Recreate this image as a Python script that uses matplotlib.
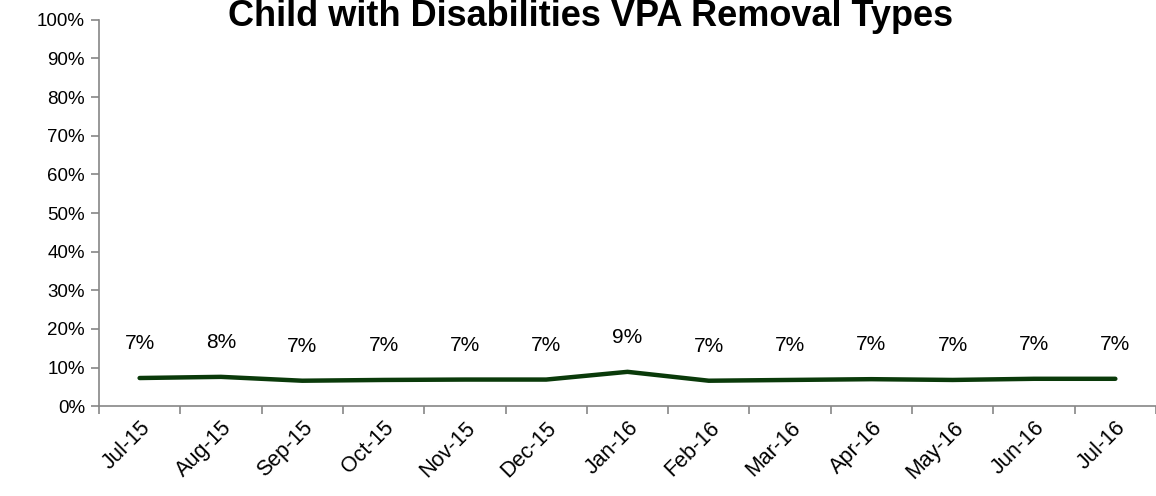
import numpy as np
import matplotlib.pyplot as plt
from matplotlib.ticker import FixedLocator, PercentFormatter

# data
months = ['Jul-15', 'Aug-15', 'Sep-15', 'Oct-15', 'Nov-15', 'Dec-15', 'Jan-16',
          'Feb-16', 'Mar-16', 'Apr-16', 'May-16', 'Jun-16', 'Jul-16']
values = [7.3, 7.6, 6.6, 6.8, 6.9, 6.9, 8.9, 6.6, 6.8, 7.0, 6.8, 7.1, 7.1]

plt.rcParams['font.family'] = ['Liberation Sans', 'DejaVu Sans']

fig = plt.figure(figsize=(11.56, 4.96), dpi=100)
ax = fig.add_axes([0.0856, 0.181, 0.9144, 0.779])

x = np.arange(len(months))
line_color = '#0a3a0a'
ax.plot(x, values, color=line_color, linewidth=3.2, solid_capstyle='round')

for xi, v in zip(x, values):
    ax.annotate(f'{v:.0f}%', (xi, v), xytext=(0, 18), textcoords='offset points',
                ha='center', va='bottom', fontsize=15)

ax.set_xlim(-0.5, len(months) - 0.5)
ax.set_ylim(0, 100)
ax.set_yticks(np.arange(0, 101, 10))
ax.yaxis.set_major_formatter(PercentFormatter(decimals=0))

ax.set_xticks(x)
ax.set_xticklabels(months, rotation=45, ha='right', rotation_mode='anchor')
ax.xaxis.set_minor_locator(FixedLocator(np.arange(-0.5, len(months), 1)))
ax.tick_params(axis='x', which='major', length=0, pad=8, labelsize=15.5)
ax.tick_params(axis='x', which='minor', length=6, color='#868686', width=1.2)
ax.tick_params(axis='y', length=6, color='#868686', width=1.2, labelsize=13.5, pad=4)

for side in ['top', 'right']:
    ax.spines[side].set_visible(False)
for side in ['left', 'bottom']:
    ax.spines[side].set_color('#868686')
    ax.spines[side].set_linewidth(1.2)

fig.text(0.511, 0.948, 'Child with Disabilities VPA Removal Types',
         ha='center', va='baseline', fontsize=26, fontweight='bold')

fig.savefig('out.png', dpi=100)
